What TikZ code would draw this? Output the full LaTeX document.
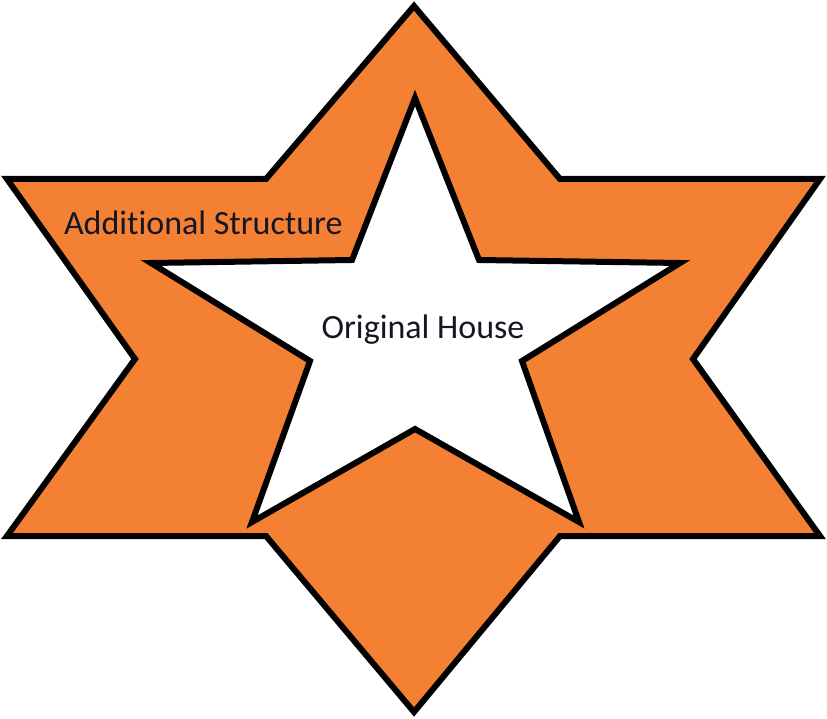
\documentclass[tikz,border=0pt]{standalone}
\usepackage{fontspec}
\setmainfont[Ligatures={NoCommon,NoContextual}]{Carlito}
\usetikzlibrary{positioning}
\definecolor{starorange}{RGB}{244,128,52}
\definecolor{labelink}{RGB}{20,22,34}

\begin{document}
\begin{tikzpicture}[x=1pt,y=-1pt,line width=6pt,line join=miter,
  every node/.style={inner sep=0pt,text=labelink,font=\fontsize{34}{40}\selectfont}]
  \useasboundingbox (0,0) rectangle (827,719);

  % six pointed outline
  \coordinate (s1) at (414,6);
  \coordinate (s2) at (560,179);
  \coordinate (s3) at (820,179);
  \coordinate (s4) at (693,359);
  \coordinate (s5) at (820,536);
  \coordinate (s6) at (560,536);
  \coordinate (s7) at (414,712);
  \coordinate (s8) at (266,536);
  \coordinate (s9) at (7,536);
  \coordinate (s10) at (135,359);
  \coordinate (s11) at (7,179);
  \coordinate (s12) at (266,179);

  % five pointed house
  \coordinate (h1) at (415,98);
  \coordinate (h2) at (479,260);
  \coordinate (h3) at (680,263);
  \coordinate (h4) at (522,361);
  \coordinate (h5) at (579,522);
  \coordinate (h6) at (415,429);
  \coordinate (h7) at (252,522);
  \coordinate (h8) at (310,361);
  \coordinate (h9) at (151,263);
  \coordinate (h10) at (352,260);

  \filldraw[fill=starorange](s1)--(s2)--(s3)--(s4)--(s5)--(s6)--(s7)--(s8)--(s9)--(s10)--(s11)--(s12)--cycle;
  \filldraw[fill=white](h1)--(h2)--(h3)--(h4)--(h5)--(h6)--(h7)--(h8)--(h9)--(h10)--cycle;

  \node[anchor=base west] (extra) at (61,235) {Additional Structure};
  \node[anchor=base] (house) at (423,338) {Original House};
\end{tikzpicture}
\end{document}
